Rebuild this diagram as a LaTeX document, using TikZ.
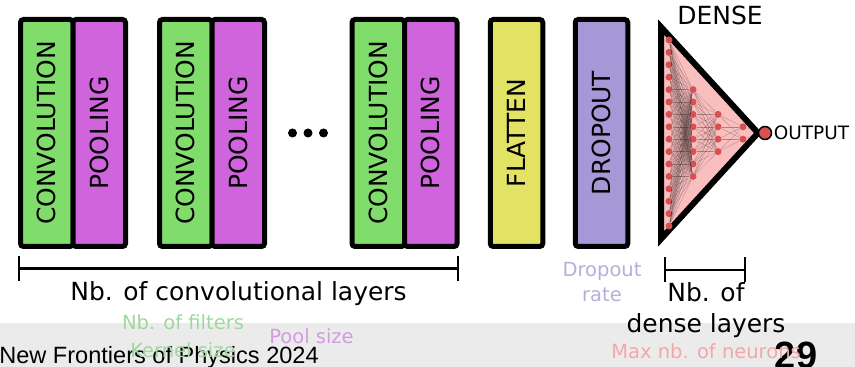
\documentclass[tikz,border=0pt]{standalone}
\usepackage{fontspec}
\setmainfont{DejaVu Sans}
\newfontfamily\footerfont{Liberation Sans}

\definecolor{convgreen}{HTML}{80DD6C}
\definecolor{poolviolet}{HTML}{D064DC}
\definecolor{flatyellow}{HTML}{E2E264}
\definecolor{dropblue}{HTML}{A698D6}
\definecolor{densepink}{HTML}{F9BEBE}
\definecolor{neuronred}{HTML}{D65252}
\definecolor{slidegray}{HTML}{EBEBEB}
\definecolor{paleconv}{HTML}{9ED89E}
\definecolor{palepool}{HTML}{D49CE0}
\definecolor{paledrop}{HTML}{B4B0D8}
\definecolor{paledense}{HTML}{F2A8A8}

\tikzset{
  layerbox/.style={draw, line width=0.100cm, rounded corners=0.060cm, rotate=90,
    minimum width=4.540cm, minimum height=1.050cm, inner sep=0pt,
    font=\fontsize{14.2}{17}\selectfont},
  neuron/.style={circle, fill=neuronred, inner sep=0pt, minimum size=0.140cm},
  synapse/.style={line width=0.006cm, black, opacity=0.30},
  bracket/.style={line width=0.050cm},
  biglabel/.style={inner sep=0pt, anchor=base, align=center,
    font=\fontsize{14.2}{17.6}\selectfont},
  hintlabel/.style={inner sep=0pt, anchor=base, align=center},
}

\begin{document}
\begin{tikzpicture}
  \useasboundingbox (0,0) rectangle (17.100000,7.340000);

  % Slide footer band
  \fill [slidegray] (0.000000,0.000000) rectangle (17.100000,0.886000);
  \node [anchor=base west, inner sep=0pt, font=\footerfont\fontsize{13.4}{16}\selectfont]
    (footer) at (-0.020000,0.074000) {New Frontiers of Physics 2024};
  \node [anchor=base, inner sep=0pt, font=\footerfont\bfseries\fontsize{21.6}{24}\selectfont]
    (pagenum) at (15.920000,-0.040000) {29};

  % Convolution / pooling blocks
  \node [layerbox, fill=convgreen] (conv1) at (0.935000,4.680000) {CONVOLUTION};
  \node [layerbox, fill=poolviolet] (pool1) at (1.985000,4.680000) {POOLING};
  \node [layerbox, fill=convgreen] (conv2) at (3.715000,4.680000) {CONVOLUTION};
  \node [layerbox, fill=poolviolet] (pool2) at (4.765000,4.680000) {POOLING};
  \node [layerbox, fill=convgreen] (conv3) at (7.565000,4.680000) {CONVOLUTION};
  \node [layerbox, fill=poolviolet] (pool3) at (8.615000,4.680000) {POOLING};

  % Dots for the blocks left out
  \foreach \x in {5.850000,6.160000,6.470000}
    \fill (\x,4.680000) circle (0.090000);

  % Flatten and dropout
  \node [layerbox, fill=flatyellow] (flatten) at (10.330000,4.680000) {FLATTEN};
  \node [layerbox, fill=dropblue] (dropout) at (12.030000,4.680000) {DROPOUT};

  % Dense part: triangle with the small network inside
  \draw [line width=0.120cm, fill=densepink] (13.220000,6.800000) -- (13.220000,2.560000)
    -- (15.160000,4.680000) -- cycle;
  \node [biglabel] (dense) at (14.400000,6.840000) {DENSE};

  \foreach \i in {1,...,16}
    \node [neuron] (a\i) at (13.380000,{4.68+(8.5-\i)*0.248}) {};
  \foreach \i in {1,...,8}
    \node [neuron] (b\i) at (13.860000,{4.68+(4.5-\i)*0.248}) {};
  \foreach \i in {1,...,4}
    \node [neuron] (c\i) at (14.360000,{4.68+(2.5-\i)*0.248}) {};
  \foreach \i in {1,2}
    \node [neuron] (d\i) at (14.860000,{4.68+(1.5-\i)*0.248}) {};
  \node [circle, draw, line width=0.030cm, fill=neuronred, inner sep=0pt,
    minimum size=0.260cm] (out) at (15.300000,4.680000) {};

  \foreach \i in {1,...,16}
    \foreach \j in {1,...,8}
      \draw [synapse] (a\i) -- (b\j);
  \foreach \i in {1,...,8}
    \foreach \j in {1,...,4}
      \draw [synapse] (b\i) -- (c\j);
  \foreach \i in {1,...,4}
    \foreach \j in {1,2}
      \draw [synapse] (c\i) -- (d\j);
  \foreach \i in {1,2}
    \draw [synapse] (d\i) -- (out);

  \node [anchor=west, inner sep=0pt, font=\fontsize{10.5}{12}\selectfont]
    (outlabel) at (15.470000,4.680000) {OUTPUT};

  % Brackets under the layers
  \coordinate (convL) at (0.380000,1.970000);
  \coordinate (convR) at (9.160000,1.970000);
  \draw [bracket] (convL) -- (convR);
  \draw [bracket] ([yshift=0.250cm]convL) -- ([yshift=-0.250cm]convL);
  \draw [bracket] ([yshift=0.250cm]convR) -- ([yshift=-0.250cm]convR);
  \node [biglabel] (convcount) at (4.770000,1.330000) {Nb. of convolutional layers};

  \coordinate (denseL) at (13.300000,1.940000);
  \coordinate (denseR) at (14.900000,1.940000);
  \draw [bracket] (denseL) -- (denseR);
  \draw [bracket] ([yshift=0.250cm]denseL) -- ([yshift=-0.250cm]denseL);
  \draw [bracket] ([yshift=0.250cm]denseR) -- ([yshift=-0.250cm]denseR);
  \node [biglabel] (densecount) at (14.120000,0.686000) {Nb. of\\dense layers};

  % Hyperparameter hints (base anchor sits on the last line)
  \node [hintlabel, text=paledrop, font=\fontsize{11.1}{14.2}\selectfont]
    (droprate) at (12.040000,1.306000) {Dropout\\rate};
  \node [hintlabel, text=paleconv, font=\fontsize{11.1}{16.2}\selectfont]
    (filters) at (3.660000,0.190000) {Nb. of filters\\Kernel size};
  \node [hintlabel, text=palepool, font=\fontsize{11.1}{14}\selectfont]
    (poolsize) at (6.230000,0.474000) {Pool size};
  \node [hintlabel, text=paledense, font=\fontsize{11.1}{14}\selectfont]
    (neurons) at (14.120000,0.174000) {Max nb. of neurons};
\end{tikzpicture}
\end{document}
